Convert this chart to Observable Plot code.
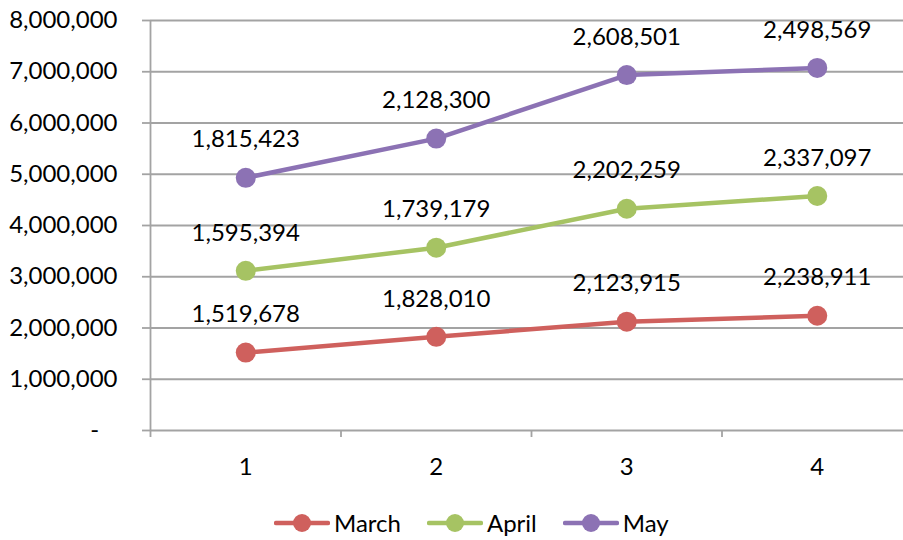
<!DOCTYPE html>
<html>
<head>
<meta charset="utf-8">
<script src="https://cdn.jsdelivr.net/npm/d3@7"></script>
<script src="https://cdn.jsdelivr.net/npm/@observablehq/plot@0.6"></script>
<style>
  body { margin: 0; background: #fff; font-family: Lato, "Open Sans", sans-serif; }
  #legend { display: flex; align-items: center; margin-left: 274px; height: 45px; padding-top: 10px; font-size: 24px; color: #000; }
  .item { display: flex; align-items: center; margin-right: 26px; }
  .item svg { margin-right: 4px; }
</style>
</head>
<body>
<div id="chart"></div>
<div id="legend"></div>
<script>
const categories = [1, 2, 3, 4];
const seriesNames = ["March", "April", "May"];
const march = [1519678, 1828010, 2123915, 2238911];
const april = [1595394, 1739179, 2202259, 2337097];
const may = [1815423, 2128300, 2608501, 2498569];
const yTicks = [0, 1000000, 2000000, 3000000, 4000000, 5000000, 6000000, 7000000, 8000000];
const colors = ["#cf605d", "#a6c363", "#8c72b4"];

const valuesBySeries = [march, april, may];
const data = [];
seriesNames.forEach((s, i) => {
  categories.forEach((c, j) => data.push({series: s, cat: c, value: valuesBySeries[i][j]}));
});

const fmt = d3.format(",");
const gray = "#a3a3a3";

const plot = Plot.plot({
  width: 903,
  height: 490,
  marginLeft: 150,
  marginRight: 0,
  marginTop: 20,
  marginBottom: 60,
  style: {fontFamily: "Lato, 'Open Sans', sans-serif", fontSize: "24px", color: "#000", background: "#fff"},
  x: {type: "linear", domain: [0.5, 4.5], range: [150, 912]},
  y: {domain: [0, 8000000]},
  color: {domain: seriesNames, range: colors},
  marks: [
    Plot.gridY(yTicks, {stroke: gray, strokeOpacity: 1, strokeWidth: 1.8}),
    Plot.ruleX([0.5], {y1: 0, y2: 8000000, stroke: gray, strokeWidth: 1.8}),
    Plot.axisY({ticks: yTicks, tickSize: 8, tickPadding: 25, stroke: gray, strokeWidth: 1.8, fill: "#000",
      tickFormat: d => d === 0 ? "-\u00a0\u00a0\u00a0" : fmt(d), label: null}),
    Plot.axisX({ticks: [0.5, 1.5, 2.5, 3.5], tickSize: 7, stroke: gray, strokeWidth: 1.8, tickFormat: () => "", label: null}),
    Plot.axisX({ticks: categories, tickSize: 0, tickPadding: 27, fill: "#000", tickFormat: d => String(d), label: null}),
    Plot.lineY(data, Plot.stackY2({x: "cat", y: "value", z: "series", stroke: "series", strokeWidth: 4.5})),
    Plot.dot(data, Plot.stackY2({x: "cat", y: "value", z: "series", fill: "series", r: 10})),
    Plot.text(data, Plot.stackY2({x: "cat", y: "value", z: "series", text: d => fmt(d.value), dy: -38, fill: "#000"}))
  ]
});
document.getElementById("chart").appendChild(plot);

const legend = document.getElementById("legend");
seriesNames.forEach((s, i) => {
  const item = document.createElement("div");
  item.className = "item";
  item.innerHTML = `<svg width="56" height="22"><line x1="2" x2="54" y1="11" y2="11" stroke="${colors[i]}" stroke-width="4.5" stroke-linecap="round"/><circle cx="28" cy="11" r="9" fill="${colors[i]}"/></svg><span>${s}</span>`;
  legend.appendChild(item);
});
</script>
</body>
</html>
